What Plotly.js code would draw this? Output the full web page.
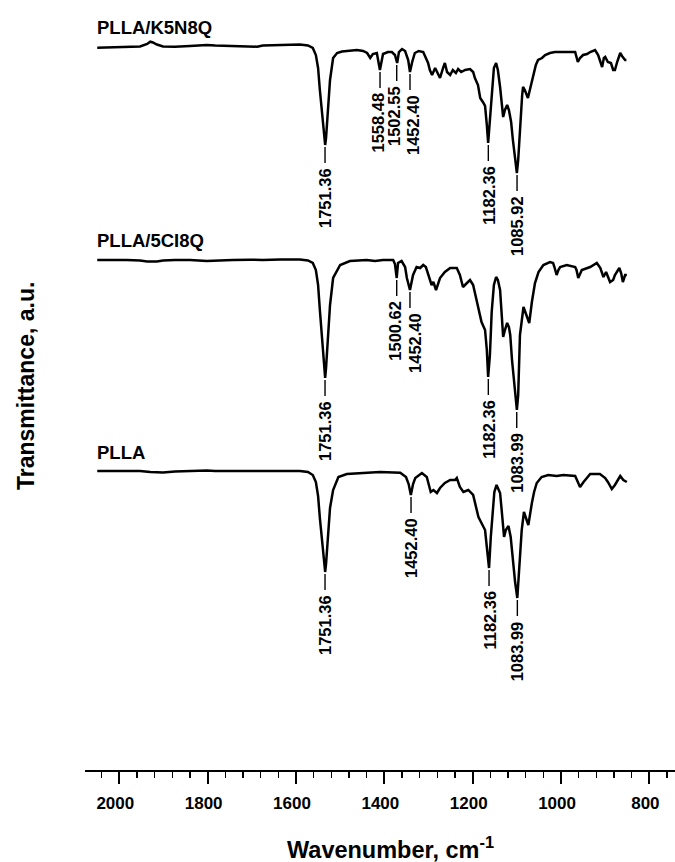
<!DOCTYPE html>
<html>
<head>
<meta charset="utf-8">
<script src="https://cdn.plot.ly/plotly-3.0.1.min.js"></script>
<style>
html,body{margin:0;padding:0;background:#fff;}
#chart{width:675px;height:862px;}
</style>
</head>
<body>
<div id="chart"></div>
<script>
// ---------------- DATA ----------------
const seriesNames = ["PLLA/K5N8Q", "PLLA/5CI8Q", "PLLA"];

// PLLA/K5N8Q spectrum (wavenumber on drawn axis, relative transmittance a.u.)
const wnK5N8Q = [2050,2010,1983,1953,1937,1930,1924,1915,1901,1874,
  1840,1802,1783,1743,1704,1688,1675,1636,1591,1573,
  1562,1555,1550,1546,1541,1537,1534,1532,1528,1523,
  1516,1507,1496,1478,1462,1448,1439,1432,1426,1417,
  1410,1403,1392,1383,1376,1371,1367,1360,1353,1346,
  1342,1337,1331,1322,1312,1306,1301,1297,1292,1285,
  1281,1274,1267,1263,1258,1251,1245,1238,1233,1226,
  1217,1206,1199,1195,1188,1183,1177,1172,1168,1165,
  1161,1156,1152,1147,1143,1138,1134,1131,1127,1122,
  1118,1113,1109,1104,1100,1097,1093,1088,1086,1082,
  1075,1070,1063,1057,1052,1043,1036,1025,1014,986,
  968,962,957,950,941,934,923,916,912,907,
  903,900,894,887,882,878,873,866,862,855,852];
const tK5N8Q = [-0.7,-0.5,0,0.5,3,5.3,4.5,2.5,0.5,0.3,
  1,2,1.5,1,0.5,0.3,1.5,2,2.5,1.5,
  -1,-8,-21,-43,-68,-88,-98,-91,-65,-33,
  -11,-6,-4.5,-4,-3,-4,-6,-11,-7,-6,
  -23,-7,-5,-5,-8,-16,-5,-2,-4,-13,
  -25,-15,-6,-4,-5,-11,-16,-23,-28,-21,
  -25,-31,-21,-16,-25,-28,-23,-26,-22,-25,
  -23,-22,-25,-31,-38,-51,-55,-59,-78,-96,
  -73,-40,-21,-16,-23,-40,-58,-70,-63,-58,
  -63,-75,-93,-113,-126,-113,-78,-48,-40,-43,
  -51,-41,-28,-18,-13,-11,-8,-6,-5,-5,
  -5,-15,-11,-8,-7,-5,-3,-8,-13,-20,
  -11,-10,-15,-16,-23,-23,-15,-6,-9,-13,-13];
const peakPosK5N8Q = [1534.3, 1409.8, 1372.0, 1341.9, 1164.6, 1099.6];
const peakLabK5N8Q = ["1751.36","1558.48","1502.55","1452.40","1182.36","1085.92"];

// PLLA/5CI8Q spectrum
const wn5CI8Q = [2050,2010,1983,1953,1937,1915,1901,1874,1840,1802,
  1783,1743,1704,1675,1636,1591,1573,1562,1555,1550,
  1546,1541,1537,1534,1532,1528,1523,1516,1500,1478,
  1440,1421,1403,1380,1376,1372,1369,1361,1353,1349,
  1342,1335,1327,1319,1312,1306,1301,1293,1289,1283,
  1274,1263,1251,1236,1229,1222,1213,1206,1199,1191,
  1180,1172,1168,1165,1161,1157,1152,1147,1143,1138,
  1131,1127,1122,1118,1115,1111,1106,1100,1097,1093,
  1085,1078,1072,1066,1059,1051,1040,1025,1018,1015,
  1010,1006,1002,987,968,965,961,953,934,919,
  911,904,898,889,882,878,868,864,860,855,851];
const t5CI8Q = [0,0.3,0,-0.5,-1.5,-1.5,-0.5,0,0,-1,
  -0.5,0,0.3,0,0.5,0.5,-0.5,-3,-10,-25,
  -50,-78,-100,-118,-108,-80,-45,-18,-5,-1,
  0,-1,0,0,-4,-18,-3,-1,-7,-18,
  -30,-15,-7,-8,-5,-7,-15,-25,-22,-30,
  -18,-12,-8,-8,-15,-27,-23,-20,-25,-40,
  -62,-70,-90,-117,-95,-52,-25,-17,-20,-30,
  -77,-70,-63,-67,-75,-100,-125,-150,-135,-75,
  -47,-55,-63,-42,-23,-12,-5,-2,-3,-7,
  -15,-10,-7,-5,-7,-10,-18,-10,-7,-3,
  -8,-17,-12,-22,-20,-15,-8,-13,-22,-15,-15];
const peakPos5CI8Q = [1534.3, 1372.0, 1342.0, 1164.6, 1100.3];
const peakLab5CI8Q = ["1751.36","1500.62","1452.40","1182.36","1083.99"];

// PLLA spectrum
const wnPLLA = [2050,2010,1983,1953,1930,1915,1901,1874,1840,1802,
  1783,1743,1704,1675,1636,1591,1573,1562,1555,1550,
  1546,1541,1537,1534,1532,1528,1523,1516,1504,1485,
  1440,1410,1364,1351,1345,1340,1335,1330,1315,1304,
  1295,1289,1281,1274,1263,1251,1240,1236,1229,1221,
  1210,1199,1187,1177,1172,1168,1163,1159,1155,1151,
  1146,1138,1134,1129,1125,1119,1114,1109,1104,1099,
  1095,1089,1084,1079,1074,1066,1061,1055,1044,1029,
  1010,995,968,962,957,949,934,912,900,894,
  885,878,866,859,851];
const tPLLA = [1,1,1,1,0,-0.5,-0.5,0.5,1,1.5,
  1,1,1,1.5,1,1,0,-3,-10,-24,
  -46,-72,-90,-100,-92,-66,-36,-18,-5,-2,
  -0.7,0,-0.7,-5,-12,-23,-12,-6,-1,-5,
  -20,-18,-21,-16,-11,-8,-8,-6,-15,-20,
  -18,-23,-45,-53,-58,-75,-96,-65,-38,-20,
  -13,-21,-40,-65,-58,-54,-65,-90,-110,-126,
  -100,-58,-40,-46,-53,-31,-20,-11,-5,-3,
  -4,-3,-4,-10,-15,-10,-2,-2,-6,-10,
  -17,-13,-4,-8,-10];
const peakPosPLLA = [1534.3, 1339.6, 1163.0, 1098.9];
const peakLabPLLA = ["1751.36","1452.40","1182.36","1083.99"];

const xTickVals = [2000, 1800, 1600, 1400, 1200, 1000, 800];

// ---------------- LAYOUT / STYLE ----------------
const FONT = "Liberation Sans, Arial, Helvetica, sans-serif";
const seriesOffsets = [723, 510, 298];      // vertical stacking of spectra
const labelShifts = [[0,-2.5,-2.7,3,0,0],[0,-2,5,0,0],[0,0,0,0]];
const GAP = 2, TICKLEN = 16, TEXTGAP = 4;

const seriesX = [wnK5N8Q, wn5CI8Q, wnPLLA];
const seriesT = [tK5N8Q, t5CI8Q, tPLLA];
const peakPos = [peakPosK5N8Q, peakPos5CI8Q, peakPosPLLA];
const peakLab = [peakLabK5N8Q, peakLab5CI8Q, peakLabPLLA];

const traces = [];
const shapes = [];
const annotations = [];

seriesNames.forEach((name, i) => {
  const off = seriesOffsets[i];
  const xs = seriesX[i], ts = seriesT[i];
  traces.push({
    x: xs, y: ts.map(v => v + off), type: 'scatter', mode: 'lines', name: name,
    line: {color: '#000', width: 2.5}, hoverinfo: 'skip'
  });
  annotations.push({
    x: xs[0], y: off + 7, xref: 'x', yref: 'y', xanchor: 'left', yanchor: 'bottom',
    xshift: -2, text: '<b>' + name + '</b>', showarrow: false,
    font: {family: FONT, size: 18.5, color: '#000'}
  });
  peakPos[i].forEach((p, j) => {
    let m = Infinity;
    xs.forEach((xv, k) => { if (Math.abs(xv - p) <= 4) m = Math.min(m, ts[k]); });
    const yp = m + off;
    shapes.push({type: 'line', xref: 'x', yref: 'y', x0: p, x1: p,
      y0: yp - GAP, y1: yp - GAP - TICKLEN, line: {color: '#000', width: 1.4}});
    annotations.push({
      x: p, y: yp - GAP - TICKLEN - TEXTGAP, xref: 'x', yref: 'y',
      xanchor: 'center', yanchor: 'top', textangle: -90, xshift: labelShifts[i][j],
      text: '<b>' + peakLab[i][j] + '</b>', showarrow: false, borderpad: 0,
      font: {family: FONT, size: 16.5, color: '#000'}
    });
  });
});

annotations.push({
  xref: 'paper', yref: 'paper', x: -0.1, y: 0.4987, xanchor: 'center', yanchor: 'middle',
  textangle: -90, text: '<b>Transmittance, a.u.</b>', showarrow: false,
  font: {family: FONT, size: 23, color: '#000'}
});
annotations.push({
  xref: 'paper', yref: 'paper', x: 0.517, y: -0.101, xanchor: 'center', yanchor: 'middle',
  text: '<b>Wavenumber, cm<sup>-1</sup></b>', showarrow: false,
  font: {family: FONT, size: 23.5, color: '#000'}
});

const layout = {
  width: 675, height: 862,
  margin: {l: 85, r: 0, t: 0, b: 92},
  paper_bgcolor: '#fff', plot_bgcolor: '#fff',
  showlegend: false,
  xaxis: {
    range: [2077.7, 742], showgrid: false, zeroline: false,
    showline: true, linecolor: '#000', linewidth: 2,
    ticks: 'outside', ticklen: 12, tickwidth: 2, tickcolor: '#000',
    tickmode: 'array', tickvals: xTickVals, ticktext: xTickVals.map(v => '<b>' + v + '</b>'),
    ticklabelstandoff: 5, ticklabelshift: 4,
    tickfont: {family: FONT, size: 17, color: '#000'},
    minor: {dtick: 40, tick0: 0, ticks: 'outside', ticklen: 6, tickwidth: 1.5, tickcolor: '#000', showgrid: false}
  },
  yaxis: {range: [0, 770], visible: false, showgrid: false, zeroline: false},
  shapes: shapes,
  annotations: annotations
};

Plotly.newPlot('chart', traces, layout, {displayModeBar: false, staticPlot: true});
</script>
</body>
</html>
